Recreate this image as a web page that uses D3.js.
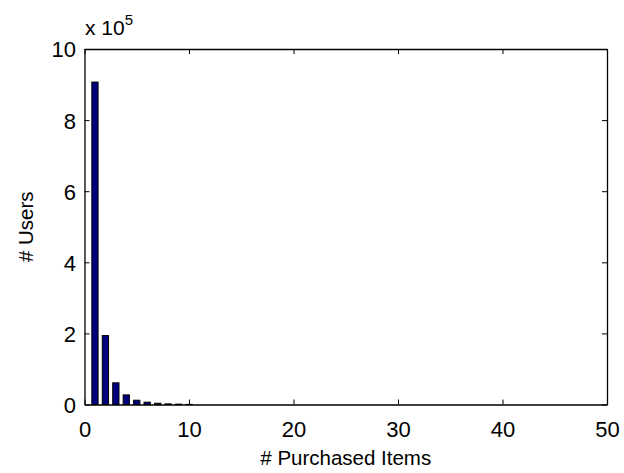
<!DOCTYPE html>
<html><head><meta charset="utf-8">
<script src="https://cdn.jsdelivr.net/npm/d3@7"></script>
<style>body{margin:0;background:#fff}svg{display:block}text{font-family:"Liberation Sans",Arial,Helvetica,sans-serif;fill:#000}</style>
</head><body>
<script>
const purchasedItems = [1,2,3,4,5,6,7,8,9,10];
const usersScaled = [9.07,1.94,0.61,0.27,0.12,0.065,0.035,0.018,0.01,0.004];
const xTicks = [0,10,20,30,40,50];
const yTicks = [0,2,4,6,8,10];
const exponentLabel = "5";

const W=624,H=473;
const m={l:84.5,r:607,t:49,b:404.5};
const svg=d3.select("body").append("svg").attr("width",W).attr("height",H);
const x=d3.scaleLinear().domain([0,50]).range([m.l,m.r]);
const y=d3.scaleLinear().domain([0,10]).range([m.b,m.t]);
const bw=(x(1)-x(0))*0.6;

svg.append("g").selectAll("rect").data(purchasedItems).join("rect")
  .attr("x",d=>x(d)-bw/2).attr("width",bw)
  .attr("y",(d,i)=>y(usersScaled[i])).attr("height",(d,i)=>y(0)-y(usersScaled[i]))
  .attr("fill","#00007f").attr("stroke","#000").attr("stroke-width",1);

const tl=5;
const fs=22;
const gx=svg.append("g").attr("transform",`translate(0,${m.b})`)
  .call(d3.axisBottom(x).tickValues(xTicks).tickSizeInner(-tl).tickSizeOuter(0));
const gxt=svg.append("g").attr("transform",`translate(0,${m.t})`)
  .call(d3.axisTop(x).tickValues(xTicks).tickSizeInner(-tl).tickSizeOuter(0).tickFormat(""));
const gy=svg.append("g").attr("transform",`translate(${m.l},0)`)
  .call(d3.axisLeft(y).tickValues(yTicks).tickSizeInner(-tl).tickSizeOuter(0));
const gyr=svg.append("g").attr("transform",`translate(${m.r},0)`)
  .call(d3.axisRight(y).tickValues(yTicks).tickSizeInner(-tl).tickSizeOuter(0).tickFormat(""));
[gx,gxt,gy,gyr].forEach(g=>{
  g.select(".domain").attr("stroke","#000").attr("stroke-width",1.3);
  g.selectAll(".tick line").attr("stroke","#000").attr("stroke-width",1);
  g.selectAll("text").attr("font-size",fs).attr("font-family",'"Liberation Sans",Arial,sans-serif').attr("fill","#000");
});
gx.selectAll("text").attr("y",32).attr("dy",0);
gy.selectAll("text").attr("x",-8.5).attr("dy","0.36em");

svg.append("text").attr("x",85).attr("y",35).attr("font-size",21)
  .text("x 10").append("tspan").attr("font-size",15).attr("dy",-10).text(exponentLabel);
svg.append("text").attr("x",(m.l+m.r)/2).attr("y",465).attr("text-anchor","middle").attr("font-size",20.5).text("# Purchased Items");
svg.append("text").attr("transform",`translate(33,${(m.t+m.b)/2}) rotate(-90)`).attr("text-anchor","middle").attr("font-size",20.5).text("# Users");
</script>
</body></html>
